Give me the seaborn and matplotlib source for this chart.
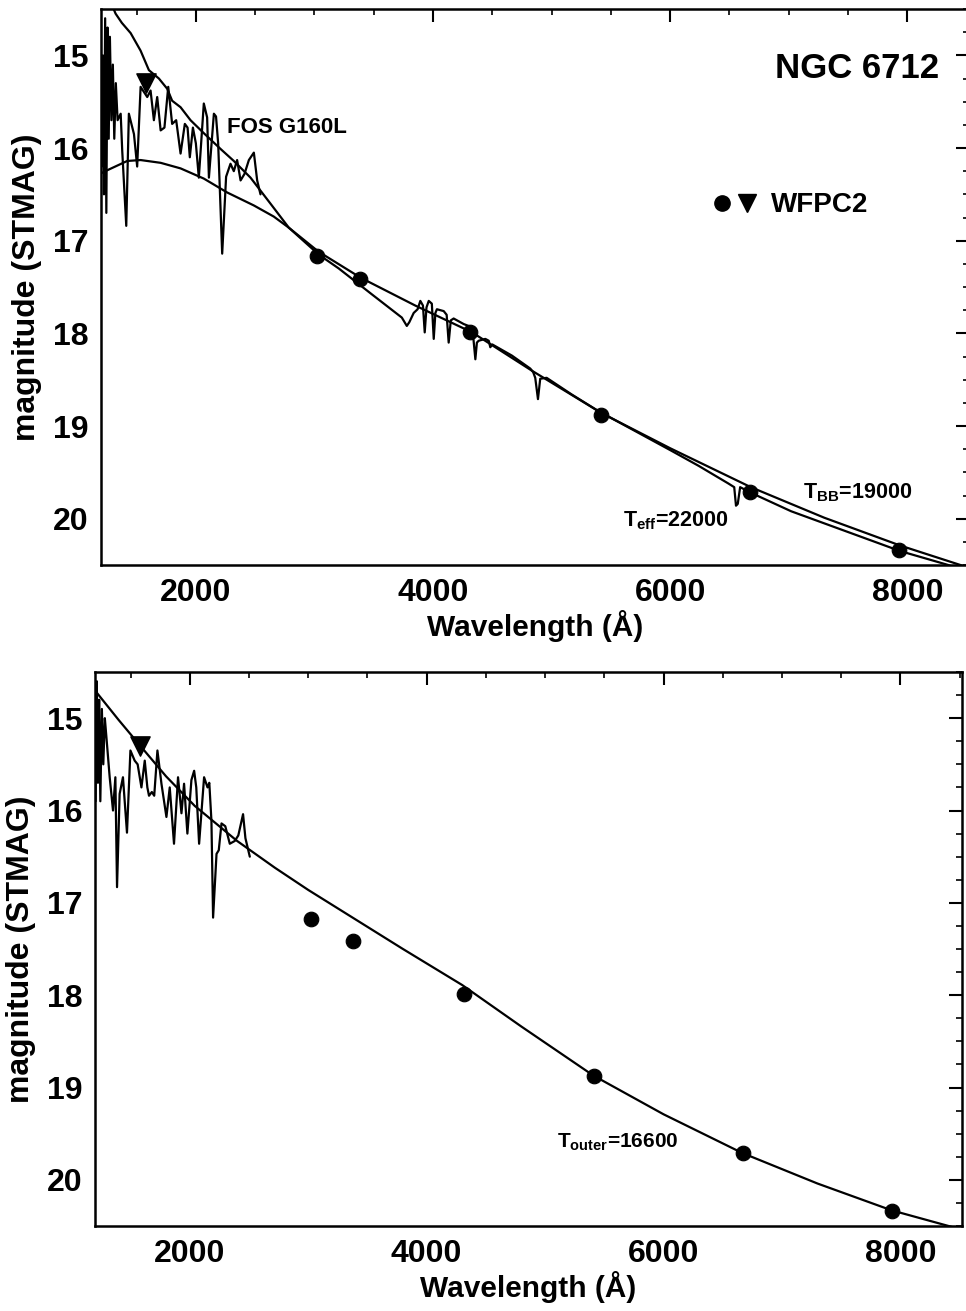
import numpy as np
import pandas as pd
import matplotlib
matplotlib.use("Agg")
import matplotlib.pyplot as plt
import seaborn as sns
from matplotlib.ticker import MultipleLocator
from matplotlib.lines import Line2D
from matplotlib.legend_handler import HandlerTuple

# ---------------- data ----------------
wfpc2_wave = [3020, 3380, 4312, 5414, 6672, 7933]
wfpc2_mag = [17.17, 17.41, 17.99, 18.88, 19.71, 20.34]
uv_wave = [1580]
uv_mag = [15.30]

fos_top_wave = [1205, 1215, 1225, 1235, 1245, 1255, 1265, 1275, 1288, 1300, 1312, 1325, 1340,
                1366, 1379, 1413, 1435, 1478, 1505, 1534, 1590, 1618, 1646, 1674, 1703, 1735,
                1767, 1800, 1834, 1871, 1907, 1930, 1949, 1975, 2000, 2025, 2067, 2095, 2110,
                2152, 2170, 2188, 2222, 2255, 2292, 2320, 2348, 2377, 2410, 2447, 2489, 2517, 2545]
fos_top_mag = [16.2, 15.0, 16.5, 14.6, 16.7, 14.7, 15.9, 14.8, 15.7, 15.1, 15.9, 15.3, 15.7,
               15.63, 16.03, 16.84, 15.63, 15.85, 16.2, 15.34, 15.45, 15.38, 15.70, 15.45, 15.81, 15.78,
               15.34, 15.74, 15.70, 16.06, 15.74, 15.78, 16.1, 15.78, 15.95, 16.32, 15.52, 15.67, 16.32,
               15.63, 15.66, 15.95, 17.14, 16.31, 16.17, 16.25, 16.13, 16.35, 16.28, 16.13, 16.05, 16.35, 16.5]

fos_bot_wave = [1205, 1215, 1225, 1235, 1245, 1258, 1270, 1283, 1296, 1324, 1352, 1372, 1386,
                1408, 1436, 1470, 1499, 1535, 1560, 1592, 1620, 1642, 1656, 1680, 1700, 1727,
                1761, 1803, 1831, 1867, 1901, 1930, 1952, 1980, 2014, 2037, 2055, 2079, 2121,
                2150, 2165, 2183, 2197, 2226, 2245, 2268, 2300, 2338, 2380, 2410, 2450, 2470, 2507]
fos_bot_mag = [15.9, 14.6, 15.7, 14.8, 15.9, 14.9, 15.5, 15.0, 15.20, 15.64, 16.0, 15.64, 16.83,
               15.82, 15.64, 16.24, 15.35, 15.46, 15.50, 15.75, 15.46, 15.75, 15.84, 15.80, 15.84, 15.35,
               15.71, 16.07, 15.75, 16.36, 15.64, 16.03, 15.71, 16.25, 15.67, 15.57, 15.75, 16.36, 15.64,
               15.75, 15.70, 16.11, 17.16, 16.47, 16.43, 16.14, 16.17, 16.36, 16.33, 16.27, 16.04, 16.30, 16.5]

model_wave = [1290, 1323, 1376, 1450, 1534, 1604, 1688, 1758, 1800, 1871, 1955, 2067, 2208, 2320,
              2461, 2629, 2784, 3036, 3205, 3485, 3737, 3779, 3800, 3837, 3870, 3893, 3915, 3930,
              3945, 3964, 3990, 4006, 4020, 4033, 4090, 4115, 4132, 4150, 4174, 4259, 4320, 4340,
              4357, 4370, 4385, 4441, 4470, 4483, 4500, 4665, 4820, 4845, 4862, 4885, 4904, 4958,
              5170, 5396, 6000, 6240, 6490, 6540, 6555, 6570, 6590, 6680, 7020, 7940, 8345, 8420]
model_mag = [14.45, 14.55, 14.65, 14.76, 14.95, 15.16, 15.25, 15.36, 15.49, 15.56, 15.70, 15.84, 16.01, 16.14,
             16.32, 16.60, 16.86, 17.15, 17.30, 17.58, 17.83, 17.92, 17.88, 17.78, 17.74, 17.65, 17.70, 17.99,
             17.72, 17.65, 17.68, 18.06, 17.78, 17.74, 17.76, 17.80, 18.10, 17.86, 17.84, 17.90, 17.93, 18.05,
             18.28, 18.10, 18.08, 18.06, 18.08, 18.15, 18.12, 18.24, 18.38, 18.42, 18.48, 18.71, 18.49, 18.48,
             18.66, 18.84, 19.26, 19.43, 19.62, 19.66, 19.86, 19.84, 19.66, 19.72, 19.92, 20.35, 20.50, 20.54]

bb_wave = [1190, 1253, 1421, 1534, 1703, 1871, 2067, 2264, 2489, 2657, 2784, 3036, 3390, 3850,
           4330, 4830, 5420, 6000, 6680, 7300, 7940, 8520]
bb_mag = [16.28, 16.24, 16.14, 16.13, 16.16, 16.22, 16.33, 16.48, 16.62, 16.74, 16.86, 17.12, 17.40, 17.70,
          17.99, 18.40, 18.86, 19.24, 19.66, 19.99, 20.29, 20.53]

outer_wave = [1200, 1400, 1563, 1800, 2042, 2400, 2719, 3000, 3400, 3800, 4300, 4800, 5407,
              6000, 6666, 7300, 7925, 8520]
outer_mag = [14.70, 15.02, 15.27, 15.63, 15.95, 16.33, 16.62, 16.86, 17.18, 17.50, 17.89, 18.34, 18.87,
             19.29, 19.71, 20.04, 20.33, 20.54]

x_ticks = [2000, 4000, 6000, 8000]
y_ticks = [15, 16, 17, 18, 19, 20]

# ---------------- style ----------------
sns.set_theme(style="white")
plt.rcParams["font.family"] = ["Liberation Sans", "DejaVu Sans"]
plt.rcParams["font.weight"] = "bold"
plt.rcParams["axes.labelweight"] = "bold"
plt.rcParams["text.color"] = "black"
plt.rcParams["axes.labelcolor"] = "black"
plt.rcParams["xtick.color"] = "black"
plt.rcParams["ytick.color"] = "black"
plt.rcParams["mathtext.fontset"] = "custom"
plt.rcParams["mathtext.rm"] = "Liberation Sans:bold"
plt.rcParams["mathtext.it"] = "Liberation Sans:bold"
plt.rcParams["mathtext.bf"] = "Liberation Sans:bold"

W, H = 966, 1311
fig = plt.figure(figsize=(W / 100, H / 100), dpi=100)
fig.patch.set_facecolor("white")

ax1 = fig.add_axes([101 / W, 1 - 565 / H, 868 / W, 556 / H])
ax2 = fig.add_axes([95 / W, 1 - 1226 / H, 867 / W, 554 / H])

LW = 1.6


def line(ax, x, y):
    df = pd.DataFrame({"wave": x, "mag": y})
    sns.lineplot(data=df, x="wave", y="mag", sort=False, estimator=None,
                 color="black", lw=LW, ax=ax)


def style(ax):
    ax.set_xlim(1200, 8520)
    ax.set_ylim(20.5, 14.5)
    ax.set_xticks(x_ticks)
    ax.set_yticks(y_ticks)
    ax.xaxis.set_minor_locator(MultipleLocator(500))
    ax.yaxis.set_minor_locator(MultipleLocator(0.25))
    ax.tick_params(which="both", direction="in", top=True, right=True, colors="black")
    ax.tick_params(which="major", length=9.5, width=1.5, labelsize=23, pad=9)
    ax.tick_params(which="minor", length=4, width=1.2)
    for lab in ax.get_xticklabels() + ax.get_yticklabels():
        lab.set_fontweight("bold")
    for s in ax.spines.values():
        s.set_linewidth(1.8)
        s.set_color("black")
    ax.set_xlabel("Wavelength (Å)", fontsize=21.5, fontweight="bold", labelpad=2)
    ax.set_ylabel("magnitude (STMAG)", fontsize=23, fontweight="bold", labelpad=8)
    ax.set_facecolor("white")


# ---------------- top panel ----------------
line(ax1, fos_top_wave, fos_top_mag)
line(ax1, model_wave, model_mag)
line(ax1, bb_wave, bb_mag)
sns.scatterplot(x=wfpc2_wave, y=wfpc2_mag, marker="o", s=110, color="black",
                edgecolor="black", ax=ax1, zorder=5)
sns.scatterplot(x=uv_wave, y=uv_mag, marker="v", s=190, color="black",
                edgecolor="black", ax=ax1, zorder=5)
style(ax1)
ax1.text(6880, 15.14, "NGC 6712", fontsize=25, fontweight="bold", ha="left", va="center")
ax1.text(2260, 15.78, "FOS G160L", fontsize=16, fontweight="bold", ha="left", va="center")
ax1.text(7124, 19.72, r"T$_{\rm BB}$=19000", fontsize=15.5, fontweight="bold", ha="left", va="center")
ax1.text(5600, 20.02, r"T$_{\rm eff}$=22000", fontsize=15.5, fontweight="bold", ha="left", va="center")

h1 = Line2D([], [], marker="o", ls="", color="black", ms=11)
h2 = Line2D([], [], marker="v", ls="", color="black", ms=13)
ax1.legend([(h1, h2)], ["WFPC2"], handler_map={tuple: HandlerTuple(ndivide=None, pad=0.2)},
           loc="center left", bbox_to_anchor=(0.692, 0.647), frameon=False,
           prop={"size": 20, "weight": "bold"},
           handlelength=1.6, handletextpad=0.5, borderaxespad=0)

# ---------------- bottom panel ----------------
line(ax2, fos_bot_wave, fos_bot_mag)
line(ax2, outer_wave, outer_mag)
sns.scatterplot(x=wfpc2_wave, y=wfpc2_mag, marker="o", s=110, color="black",
                edgecolor="black", ax=ax2, zorder=5)
sns.scatterplot(x=uv_wave, y=uv_mag, marker="v", s=190, color="black",
                edgecolor="black", ax=ax2, zorder=5)
style(ax2)
ax2.text(5100, 19.59, r"T$_{\rm outer}$=16600", fontsize=15, fontweight="bold", ha="left", va="center")

fig.savefig("out.png", dpi=100, facecolor="white")
